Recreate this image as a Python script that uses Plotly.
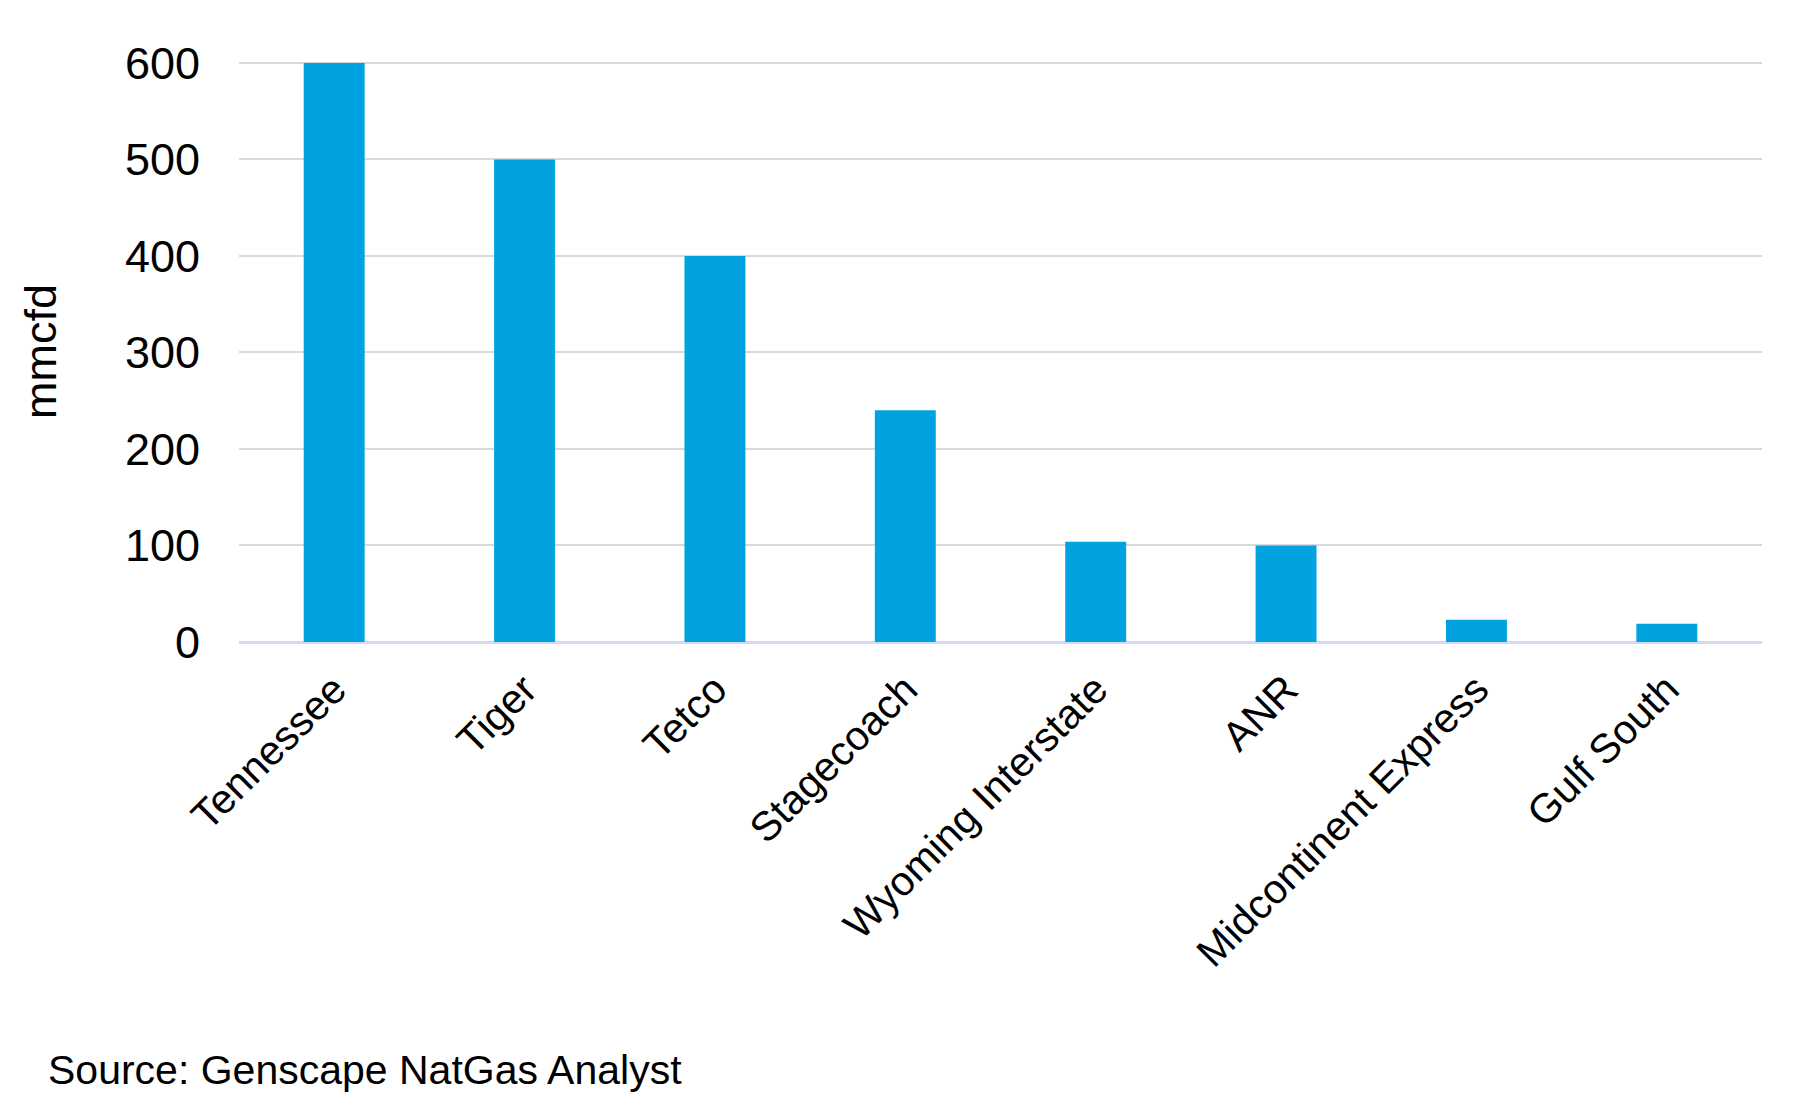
import plotly.graph_objects as go

categories = ["Tennessee", "Tiger", "Tetco", "Stagecoach", "Wyoming Interstate",
              "ANR", "Midcontinent Express", "Gulf South"]
values = [600, 500, 400, 240, 104, 100, 23, 19]
y_ticks = [0, 100, 200, 300, 400, 500, 600]

FONT = "Liberation Sans, Arial, sans-serif"

L, R, T, B = 231, 46, 53, 471
W, H = 1800, 1105
plot_w = W - L - R
plot_h = H - T - B

fig = go.Figure(go.Bar(x=categories, y=values, marker=dict(color="#00A3E0", line=dict(width=0))))

fig.update_layout(
    width=W, height=H,
    paper_bgcolor="white", plot_bgcolor="white",
    margin=dict(l=L, r=R, t=T, b=B),
    bargap=0.68,
    showlegend=False,
    font=dict(family=FONT, size=41, color="#000000"),
    annotations=[dict(text="Source: Genscape NatGas Analyst",
                      xref="paper", yref="paper",
                      x=(38 - L) / plot_w, y=-(1062 - (T + plot_h)) / plot_h,
                      xanchor="left", yanchor="middle", showarrow=False,
                      font=dict(family=FONT, size=41, color="#000000"))],
)

fig.update_xaxes(tickangle=-45, showgrid=False, showline=False, ticks="",
                 ticklabelstandoff=14,
                 tickfont=dict(family=FONT, size=41, color="#000000"))
fig.update_yaxes(range=[0, 602], tickvals=y_ticks, showgrid=True,
                 gridcolor="#d9d9d9", gridwidth=2, zeroline=True,
                 zerolinecolor="#d6d9f3", zerolinewidth=3,
                 ticks="", ticklabelstandoff=38,
                 tickfont=dict(family=FONT, size=45, color="#000000"),
                 title=dict(text="mmcfd", standoff=54,
                            font=dict(family=FONT, size=45, color="#000000")))

fig.write_html("out.html")
